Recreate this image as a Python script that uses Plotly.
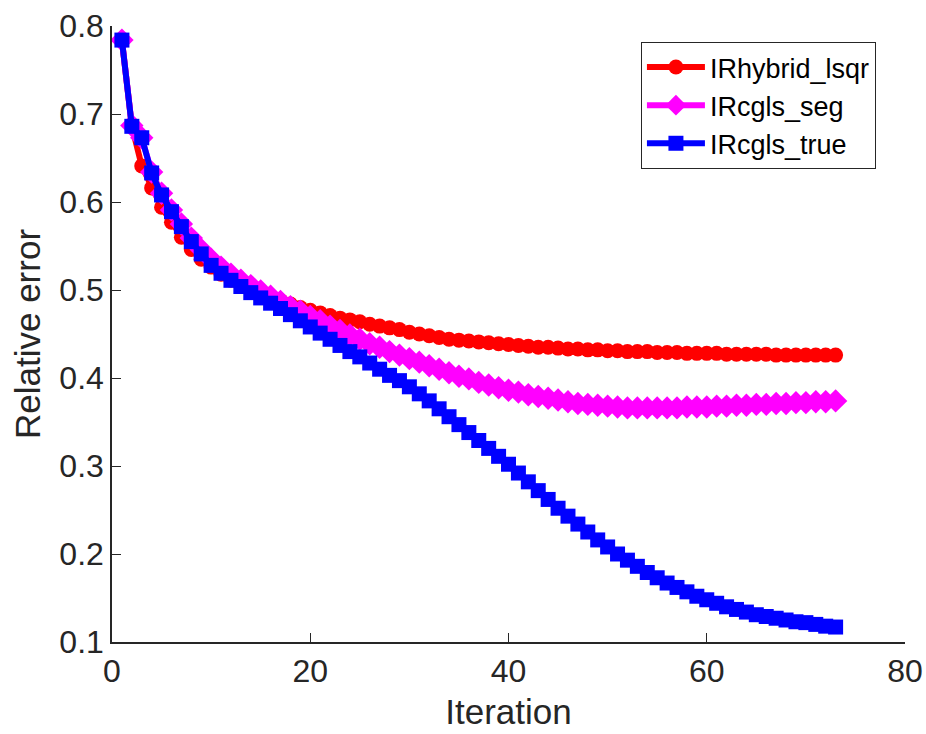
import plotly.graph_objects as go

iterations = list(range(1, 74))

ir_hybrid_lsqr = [
    0.784, 0.686, 0.641, 0.616, 0.594, 0.577, 0.560, 0.546, 0.535, 0.526,
    0.518, 0.511, 0.505, 0.500, 0.496, 0.492, 0.488, 0.484, 0.480, 0.477,
    0.474, 0.471, 0.468, 0.466, 0.464, 0.461, 0.459, 0.457, 0.455, 0.452,
    0.450, 0.448, 0.446, 0.444, 0.443, 0.442, 0.441, 0.440, 0.439, 0.438,
    0.437, 0.436, 0.435, 0.435, 0.434, 0.433, 0.433, 0.432, 0.432, 0.431,
    0.431, 0.430, 0.430, 0.430, 0.429, 0.429, 0.429, 0.428, 0.428, 0.428,
    0.428, 0.427, 0.427, 0.427, 0.427, 0.427, 0.426, 0.426, 0.426, 0.426,
    0.426, 0.426, 0.426,
]

ir_cgls_seg = [
    0.784, 0.687, 0.673, 0.634, 0.610, 0.591, 0.575, 0.559, 0.546, 0.535,
    0.526, 0.518, 0.511, 0.505, 0.499, 0.493, 0.487, 0.481, 0.476, 0.470,
    0.465, 0.459, 0.454, 0.449, 0.444, 0.439, 0.435, 0.430, 0.426, 0.422,
    0.418, 0.414, 0.410, 0.406, 0.402, 0.399, 0.395, 0.392, 0.389, 0.386,
    0.384, 0.381, 0.379, 0.377, 0.375, 0.373, 0.371, 0.370, 0.369, 0.368,
    0.367, 0.366, 0.366, 0.366, 0.366, 0.366, 0.366, 0.367, 0.367, 0.367,
    0.368, 0.368, 0.369, 0.369, 0.370, 0.370, 0.371, 0.371, 0.372, 0.372,
    0.373, 0.373, 0.374,
]

ir_cgls_true = [
    0.784, 0.686, 0.673, 0.633, 0.608, 0.589, 0.572, 0.555, 0.541, 0.528,
    0.519, 0.511, 0.504, 0.497, 0.491, 0.485, 0.479, 0.472, 0.465, 0.458,
    0.451, 0.444, 0.437, 0.430, 0.424, 0.417, 0.410, 0.403, 0.397, 0.390,
    0.382, 0.374, 0.365, 0.356, 0.347, 0.338, 0.329, 0.320, 0.311, 0.302,
    0.292, 0.282, 0.272, 0.262, 0.252, 0.243, 0.234, 0.225, 0.216, 0.208,
    0.200, 0.193, 0.186, 0.179, 0.173, 0.167, 0.162, 0.157, 0.152, 0.148,
    0.144, 0.140, 0.137, 0.134, 0.131, 0.129, 0.127, 0.125, 0.123, 0.122,
    0.120, 0.118, 0.117,
]

x_ticks = [0, 20, 40, 60, 80]
y_ticks = [0.1, 0.2, 0.3, 0.4, 0.5, 0.6, 0.7, 0.8]

FONT = "Liberation Sans, Arial, sans-serif"
AX = "#262626"

fig = go.Figure()
series = [
    ("IRhybrid_lsqr", ir_hybrid_lsqr, "#ff0000", "circle", 15),
    ("IRcgls_seg", ir_cgls_seg, "#ff00ff", "diamond", 18),
    ("IRcgls_true", ir_cgls_true, "#0000ff", "square", 15),
]
for name, vals, col, sym, ms in series:
    fig.add_trace(go.Scatter(
        x=iterations, y=vals, name=name, mode="lines+markers",
        line=dict(color=col, width=6),
        marker=dict(symbol=sym, size=ms, color=col, line=dict(width=0)),
    ))

fig.update_layout(
    width=926, height=734,
    margin=dict(l=112, r=21, t=26, b=92),
    paper_bgcolor="white", plot_bgcolor="white",
    font=dict(family=FONT, color=AX, size=32),
    showlegend=True,
    legend=dict(
        x=0.667, y=0.974, xanchor="left", yanchor="top",
        bordercolor=AX, borderwidth=1, bgcolor="white",
        font=dict(size=27, family=FONT, color="#000000"),
        itemwidth=58, tracegroupgap=0,
    ),
)
fig.update_xaxes(
    range=[0, 80], tickvals=x_ticks, ticktext=[str(v) for v in x_ticks],
    showline=True, linecolor=AX, linewidth=1.5, mirror=False,
    ticks="inside", ticklen=9, tickcolor=AX, tickwidth=1,
    showgrid=False, zeroline=False, automargin=False,
    tickfont=dict(size=32, color=AX),
    title=dict(text="Iteration", font=dict(size=35, color=AX), standoff=11),
)
fig.update_yaxes(
    range=[0.1, 0.8], tickvals=y_ticks, ticktext=[f"{v:.1f}" for v in y_ticks],
    showline=True, linecolor=AX, linewidth=1.5, mirror=False,
    ticks="inside", ticklen=9, tickcolor=AX, tickwidth=1,
    showgrid=False, zeroline=False, automargin=False,
    tickfont=dict(size=32, color=AX),
    title=dict(text="Relative error", font=dict(size=35, color=AX), standoff=8),
)

fig.write_html("out.html")
